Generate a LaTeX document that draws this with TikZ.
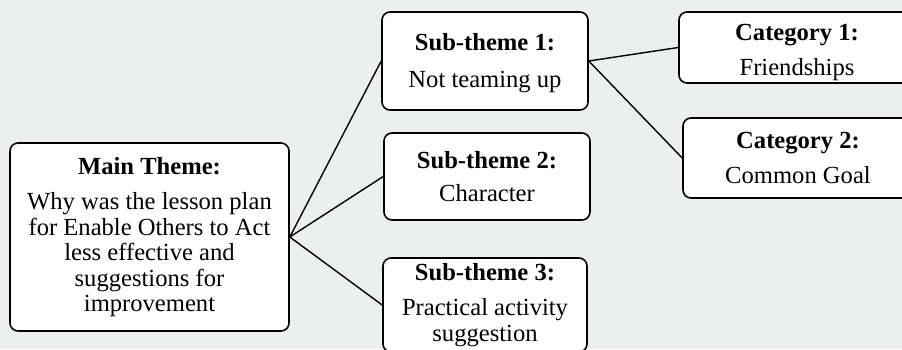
\documentclass[tikz,border=0pt]{standalone}
\usepackage{fontspec}
\setmainfont{Liberation Serif}
\definecolor{bg}{RGB}{237,238,238}
\begin{document}
\begin{tikzpicture}[x=1pt,y=-1pt,
 txt/.style={align=center, inner sep=0pt, font=\fontsize{24.6}{25.5}\selectfont},
 box/.style={txt, draw=black, line width=1.6pt, fill=white, rounded corners=8pt},
 link/.style={draw=black, line width=1.4pt}]
\fill[bg] (0,0) rectangle (902,349);
\useasboundingbox (0,0) rectangle (902,349);
\clip (0,0) rectangle (902,349);
\node[box, minimum width=279pt, minimum height=188pt] (main) at (149.5,237)
  {\textbf{Main Theme:}\\[10pt]Why was the lesson plan\\for Enable Others to Act\\less effective and\\suggestions for\\improvement};
\node[box, minimum width=206pt, minimum height=98pt] (sub1) at (485,61) {};
\node[txt] (sub1t) at (485,63) {\textbf{Sub-theme 1:}\\[11pt]Not teaming up};
\node[box, minimum width=206pt, minimum height=87pt] (sub2) at (487,176.5)
  {\textbf{Sub-theme 2:}\\[8pt]Character};
\node[box, minimum width=204pt, minimum height=94pt] (sub3) at (485,305)
  {\textbf{Sub-theme 3:}\\[10pt]Practical activity\\suggestion};
\node[box, minimum width=236pt, minimum height=71pt] (cat1) at (797,47.5) {};
\node[txt] (cat1t) at (797,52.5) {\textbf{Category 1:}\\[9pt]Friendships};
\node[box, minimum width=230pt, minimum height=80pt] (cat2) at (798,158)
  {\textbf{Category 2:}\\[10pt]Common Goal};
\draw[link] (main.east) -- (sub1.west);
\draw[link] (main.east) -- (sub2.west);
\draw[link] (main.east) -- (sub3.west);
\draw[link] (sub1.east) -- (cat1.west);
\draw[link] (sub1.east) -- (cat2.west);
\end{tikzpicture}
\end{document}
